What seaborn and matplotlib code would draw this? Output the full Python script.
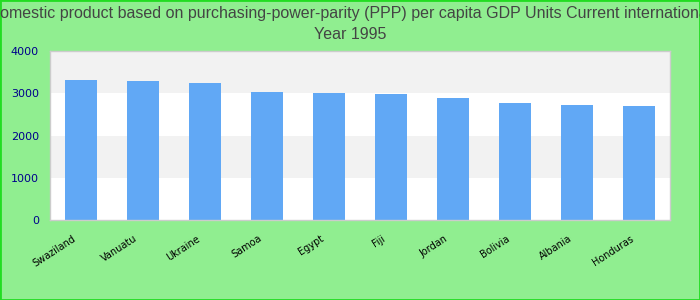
import matplotlib
matplotlib.use("Agg")
import matplotlib.pyplot as plt
import matplotlib.transforms as mtransforms
import seaborn as sns
import pandas as pd

countries = ["Swaziland", "Vanuatu", "Ukraine", "Samoa", "Egypt", "Fiji",
             "Jordan", "Bolivia", "Albania", "Honduras"]
values = [3314, 3290, 3243, 3030, 3006, 2982, 2888, 2769, 2722, 2698]
yticks = [0, 1000, 2000, 3000, 4000]
title_text = ("Gross domestic product based on purchasing-power-parity (PPP) per capita "
              "GDP Units Current international dollar\nYear 1995")

df = pd.DataFrame({"country": countries, "value": values})

sns.set_theme(style="white")
fig = plt.figure(figsize=(7, 3), dpi=100, facecolor="#90ee90")
ax = fig.add_axes([50/700, 1-220/300, 620/700, 169/300])
ax.set_facecolor("white")

for i, (lo, hi) in enumerate(zip(yticks[:-1], yticks[1:])):
    if i % 2 == 1:
        ax.axhspan(lo, hi, color="#f2f2f2", zorder=0, lw=0)

sns.barplot(data=df, x="country", y="value", color="#61a8f5", saturation=1,
            width=0.52, ax=ax, zorder=2, linewidth=0, edgecolor="none")

ax.set_ylim(0, 4000)
ax.set_xlim(-0.5, len(countries) - 0.5)
ax.tick_params(axis="x", length=0, pad=6)
ax.tick_params(axis="y", length=0, pad=8)
ax.set_yticks(yticks)
ax.set_yticklabels([str(t) for t in yticks], color="#00008b", fontsize=8)
ax.set_xticks(range(len(countries)))
ax.set_xticklabels(countries, rotation=33, ha="right", va="top",
                   rotation_mode="anchor", fontsize=7, color="black")
offset = mtransforms.ScaledTranslation(-9/100, -5/100, fig.dpi_scale_trans)
for lab in ax.get_xticklabels():
    lab.set_transform(lab.get_transform() + offset)
ax.set_xlabel("")
ax.set_ylabel("")
for s in ax.spines.values():
    s.set_color("#cccccc")
    s.set_linewidth(1)

fig.text(0.5, 1 - 24/300, title_text, ha="center", va="center", fontsize=11.5,
         color="#444444", family=["Liberation Sans", "DejaVu Sans"],
         linespacing=1.55)

border = plt.Rectangle((0, 0), 1, 1, transform=fig.transFigure, fill=False,
                       edgecolor="#22dd22", lw=2)
fig.patches.append(border)

fig.savefig("out.png", dpi=100, facecolor=fig.get_facecolor())
